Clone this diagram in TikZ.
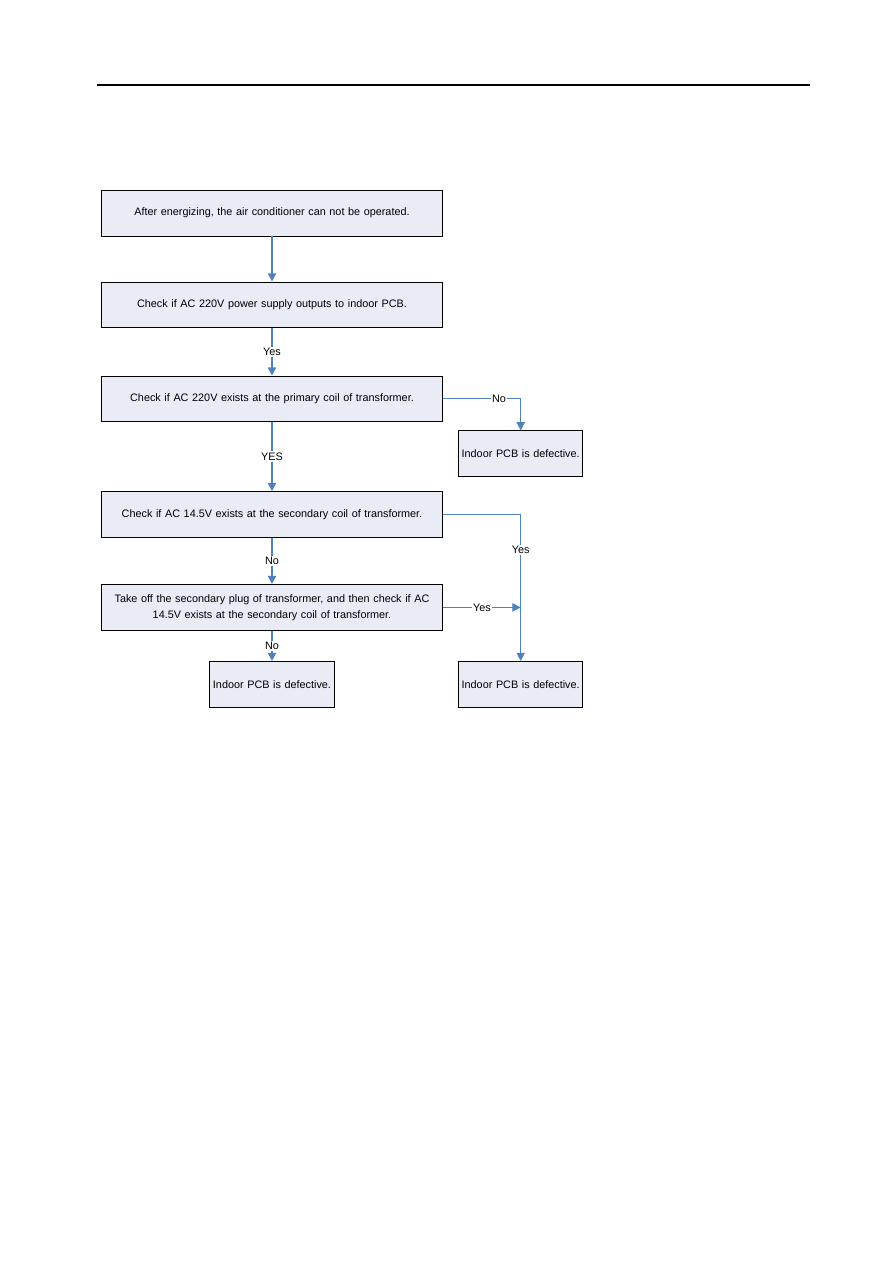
\documentclass[tikz,border=0pt]{standalone}
\usepackage{fontspec}
\setmainfont{Liberation Sans}
\usetikzlibrary{arrows.meta, positioning}
\definecolor{boxfill}{RGB}{233,236,245}
\definecolor{flowblue}{RGB}{79,129,189}

\begin{document}
\begin{tikzpicture}[
        node distance=1.06cm and 0.35cm,
        check/.style={
            rectangle,
            draw=black,
            line width=0.6pt,
            fill=boxfill,
            minimum width=8cm,
            minimum height=1.08cm,
            text width=7.8cm,
            align=center,
            font=\fontsize{7.25}{10.5}\selectfont
        },
        defect/.style={check, minimum width=2.92cm, text width=2.85cm, inner xsep=0.02cm},
        arrow/.style={
            -{Triangle[width=5.5pt,length=5.5pt]},
            line width=1pt,
            flowblue
        },
        sidearrow/.style={arrow, line width=0.7pt},
        lbl/.style={fill=white, text=black, inner sep=1pt, font=\fontsize{7.25}{9}\selectfont}
    ]
    \useasboundingbox (0,0) rectangle (21,-29.7);

    % Page header rule
    \draw[line width=0.8pt] (2.28,-2.0) -- (19.05,-2.0);

    % Main column
    \node[check] (start) at (6.396,-5.009) {After energizing, the air conditioner can not be operated.};
    \node[check, below=of start]           (supply)    {Check if AC 220V power supply outputs to indoor PCB.};
    \node[check, below=1.11cm of supply]   (primary)   {Check if AC 220V exists at the primary coil of transformer.};
    \node[check, below=1.62cm of primary]  (secondary) {Check if AC 14.5V exists at the secondary coil of transformer.};
    \node[check, below=1.08cm of secondary] (unplug)   {Take off the secondary plug of transformer, and then check if AC\\14.5V exists at the secondary coil of transformer.};
    \node[defect, below=0.71cm of unplug]  (pcbA)      {Indoor PCB is defective.};

    % Right column
    \node[defect, below right=0.19cm and 0.35cm of primary] (pcbB) {Indoor PCB is defective.};
    \node[defect] (pcbC) at (pcbB |- pcbA) {Indoor PCB is defective.};
    \coordinate (join) at (pcbC |- unplug.east);

    % Arrows: main column
    \draw[arrow] (start) -- (supply);
    \draw[arrow] (supply) -- node[lbl] {Yes} (primary);
    \draw[arrow] (primary) -- node[lbl] {YES} (secondary);
    \draw[arrow] (secondary) -- node[lbl] {No} (unplug);
    \draw[arrow] (unplug) -- node[lbl] {No} (pcbA);

    % Arrows: right branches
    \draw[sidearrow] (primary.east) -| node[lbl, pos=0.36] {No} (pcbB);
    \draw[sidearrow] (secondary.east) -| node[lbl, pos=0.62] {Yes} (pcbC);
    \draw[sidearrow] (unplug.east) -- node[lbl] {Yes} (join);

\end{tikzpicture}
\end{document}
